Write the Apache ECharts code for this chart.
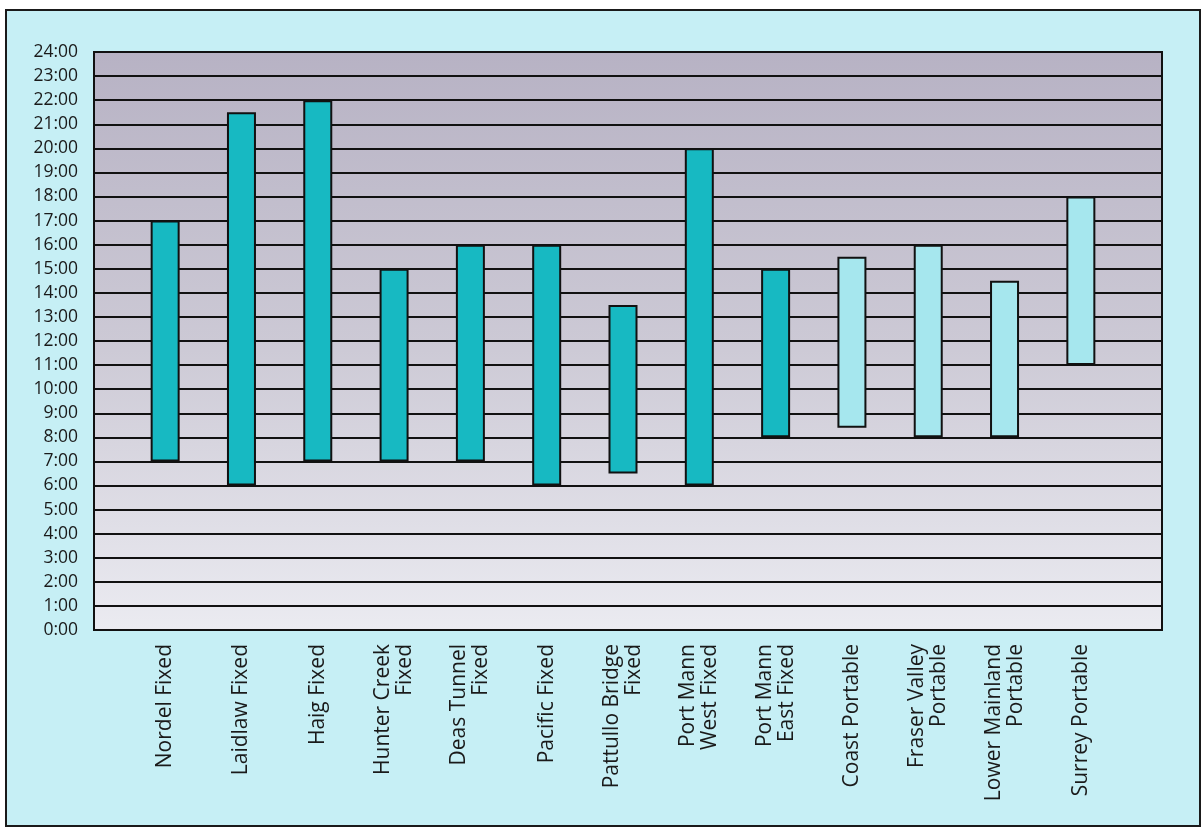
<!DOCTYPE html>
<html>
<head>
<meta charset="utf-8">
<script src="https://cdn.jsdelivr.net/npm/echarts@6/dist/echarts.min.js"></script>
<style>
html,body{margin:0;padding:0;background:#ffffff;}
#chart{width:1204px;height:830px;}
</style>
</head>
<body>
<div id="chart"></div>
<script>
// ---- data ----
const categories = [
  'Nordel Fixed', 'Laidlaw Fixed', 'Haig Fixed', 'Hunter Creek\nFixed', 'Deas Tunnel\nFixed',
  'Pacific Fixed', 'Pattullo Bridge\nFixed', 'Port Mann\nWest Fixed', 'Port Mann\nEast Fixed',
  'Coast Portable', 'Fraser Valley\nPortable', 'Lower Mainland\nPortable', 'Surrey Portable'
];
const startHours = [7, 6, 7, 7, 7, 6, 6.5, 6, 8, 8.4, 8, 8, 11];
const endHours   = [17, 21.5, 22, 15, 16, 16, 13.5, 20, 15, 15.5, 16, 14.5, 18];
const siteTypes  = ['fixed','fixed','fixed','fixed','fixed','fixed','fixed','fixed','fixed',
                    'portable','portable','portable','portable'];
const hourTicks = Array.from({length: 25}, (_, i) => i + ':00');

const typeColors = { fixed: '#17b9c2', portable: '#a6e7ee' };

const chart = echarts.init(document.getElementById('chart'));

const durations = endHours.map((e, i) => ({
  value: e - startHours[i],
  itemStyle: { color: typeColors[siteTypes[i]] }
}));

const option = {
  backgroundColor: '#ffffff',
  animation: false,
  graphic: [{
    type: 'rect',
    z: -10,
    shape: { x: 6, y: 10, width: 1194, height: 816 },
    style: { fill: '#c6eff5', stroke: '#1a1a1a', lineWidth: 2 }
  }],
  grid: [
    {
      left: 94, right: 42, top: 52, bottom: 200,
      show: true,
      borderColor: '#111', borderWidth: 2,
      backgroundColor: {
        type: 'linear', x: 0, y: 0, x2: 0, y2: 1,
        colorStops: [
          { offset: 0, color: '#b7b2c4' },
          { offset: 0.5, color: '#ccc9d5' },
          { offset: 1, color: '#ebebf1' }
        ]
      }
    },
    { left: 127, width: 992, top: 52, bottom: 200 }
  ],
  xAxis: [
    { type: 'value', gridIndex: 0, show: false, min: 0, max: 1 },
    {
      type: 'category', gridIndex: 1, data: categories,
      axisLine: { show: false }, axisTick: { show: false },
      axisLabel: {
        rotate: 90, margin: 14, interval: 0,
        fontFamily: 'Open Sans', fontSize: 21, color: '#1a1a1a', lineHeight: 22
      }
    }
  ],
  yAxis: [
    {
      type: 'value', gridIndex: 0, min: 0, max: 24, interval: 1,
      axisLine: { show: true, lineStyle: { color: '#111', width: 2 } },
      axisTick: { show: false },
      axisLabel: {
        margin: 16, fontFamily: 'Open Sans', fontSize: 17.5, color: '#1a1a1a',
        formatter: v => hourTicks[v]
      },
      splitLine: { show: true, lineStyle: { color: '#111', width: 2 } }
    },
    { type: 'value', gridIndex: 1, min: 0, max: 24, interval: 1, show: false, splitLine: { show: false } }
  ],
  series: [
    {
      type: 'bar', xAxisIndex: 1, yAxisIndex: 1, stack: 'range',
      barWidth: 29, itemStyle: { color: 'transparent' },
      data: startHours, silent: true, z: 3
    },
    {
      type: 'bar', xAxisIndex: 1, yAxisIndex: 1, stack: 'range',
      barWidth: 29,
      itemStyle: { borderColor: '#111', borderWidth: 2 },
      data: durations, z: 4
    }
  ]
};
chart.setOption(option);
</script>
</body>
</html>
